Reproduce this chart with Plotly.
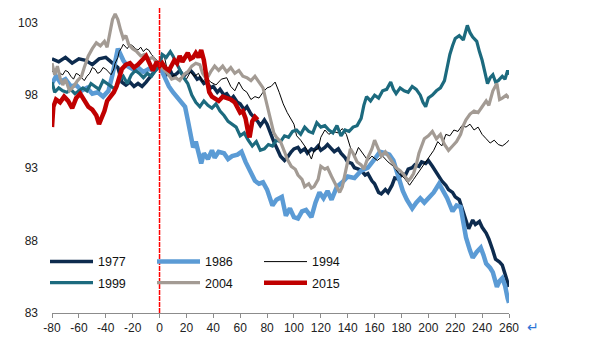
import plotly.graph_objects as go

# ---- data: (trading day relative to event, index level; event day = 100) ----
s1977 = [(-80,100.5),(-75,100.3),(-70,100.6),(-65,100.2),(-60,100.5),(-55,100.4),(-50,100.1),(-45,100.5),
         (-40,100.6),(-35,100.2),(-31,99.9),(-28,98.9),(-25,98.7),(-22,98.9),(-19,98.6),(-16,98.8),(-13,98.6),
         (-10,98.9),(-7,99.3),(-4,99.6),(-2,99.8),(0,100.0),
         (3,99.6),(5,99.4),(8,99.7),(10,99.3),(13,99.5),(15,99.7),(18,99.3),(20,99.5),(23,99.7),(25,99.5),
         (28,99.1),(30,99.2),(33,98.8),(35,98.9),(38,98.5),(40,98.6),(43,98.2),(45,98.4),(48,98.0),(50,98.1),
         (53,97.7),(55,97.9),(58,97.5),(60,97.4),(63,97.0),(65,97.2),(68,96.7),(70,96.5),(73,96.2),(75,95.9),
         (78,96.3),(80,96.0),(83,95.2),(85,94.8),(88,94.2),(90,93.8),(93,93.5),(95,93.7),(98,94.1),(100,94.3),
         (103,94.4),(105,94.1),(108,94.3),(110,94.0),(113,94.3),(115,94.2),(118,94.5),(120,94.2),(123,94.4),
         (125,94.6),(128,94.3),(130,94.1),(133,94.3),(135,94.0),(138,93.7),(140,93.4),(143,93.3),(145,93.0),
         (148,92.9),(150,92.8),(153,92.5),(155,92.6),(158,92.1),(160,91.9),(163,91.3),(165,91.2),(168,91.5),
         (170,91.3),(173,91.8),(175,92.3),(178,92.2),(180,92.6),(183,92.5),(185,92.9),(188,93.0),(190,93.2),
         (193,93.1),(195,93.4),(198,93.3),(200,93.5),(203,93.1),(205,92.8),(208,92.3),(210,92.1),(213,91.8),
         (215,91.5),(218,91.3),(220,91.0),(223,90.8),(225,90.2),(228,89.5),(230,88.8),(233,89.4),(235,89.1),
         (238,89.3),(240,88.9),(243,88.5),(245,88.1),(248,87.3),(250,86.7),(253,86.5),(255,86.3),(258,85.4),
         (260,84.8)]

s1986 = [(-80,98.8),(-77,99.3),(-74,98.9),(-70,99.1),(-66,98.6),(-62,98.7),(-58,98.3),(-54,98.5),(-50,98.1),
         (-46,98.2),(-42,97.9),(-38,98.3),(-35,99.4),(-33,100.3),(-31,101.2),(-29,100.8),(-27,100.4),(-24,100.0),
         (-20,99.8),(-16,99.9),(-12,99.6),(-8,99.8),(-4,99.7),(0,100.0),
         (2,99.6),(4,99.2),(7,98.6),(10,98.2),(13,97.9),(16,97.6),(19,97.2),(21,96.3),(23,95.2),(25,94.4),
         (27,94.8),(29,94.0),(31,93.3),(33,94.0),(36,93.6),(39,94.2),(41,93.7),(44,94.1),(48,94.0),(51,93.6),
         (54,93.8),(58,93.9),(61,94.1),(64,93.4),(67,92.9),(71,92.1),(74,91.9),(77,92.0),(80,91.5),(84,90.4),
         (87,90.8),(91,91.0),(94,89.7),(97,90.2),(100,89.6),(103,89.5),(106,90.0),(109,90.1),(113,89.6),
         (116,90.6),(119,91.3),(122,90.9),(125,91.4),(128,90.8),(132,91.7),(136,92.0),(140,92.4),(145,92.3),
         (150,92.8),(155,93.0),(160,93.6),(164,94.1),(168,94.0),(171,93.9),(174,93.5),(178,92.3),(181,91.4),
         (184,90.8),(188,90.2),(191,90.6),(194,90.9),(197,90.6),(200,90.9),(204,91.3),(208,91.9),(211,91.4),
         (214,90.9),(218,90.0),(221,90.4),(224,90.3),(226,89.2),(228,88.2),(231,87.3),(233,86.8),(236,87.2),
         (239,87.5),(241,87.0),(243,86.4),(246,86.1),(248,85.8),(251,84.8),(253,85.2),(255,85.4),(257,84.9),
         (259,84.0),(260,83.7)]

s1994 = [(-80,99.6),(-78,99.8),(-76,99.9),(-74,99.5),(-72,99.4),(-70,99.7),(-68,99.6),(-66,99.3),(-64,99.1),
         (-62,99.5),(-60,99.4),(-58,99.2),(-56,99.0),(-54,99.3),(-52,99.5),(-50,99.9),(-48,99.8),(-46,99.5),
         (-44,99.6),(-42,99.9),(-40,99.8),(-38,99.6),(-36,99.4),(-34,99.8),(-33,100.2),(-31,100.6),(-30,101.0),
         (-28,101.3),(-27,101.5),(-25,101.3),(-24,101.2),(-22,101.5),(-20,101.4),(-18,101.2),(-16,101.1),
         (-14,101.3),(-12,101.0),(-10,101.2),(-8,101.1),(-6,100.8),(-4,100.6),(-2,100.4),(0,100.0),
         (2,100.9),(4,100.5),(6,99.6),(8,99.2),(11,99.4),(14,99.1),(17,99.3),(20,99.1),(23,99.6),(26,99.3),
         (29,99.5),(32,98.9),(35,99.2),(38,98.9),(42,98.7),(46,99.1),(50,99.2),(53,98.6),(56,98.3),(59,98.9),
         (62,98.4),(65,98.2),(68,97.7),(71,97.9),(74,97.8),(77,98.2),(80,98.5),(83,98.6),(86,98.9),(89,98.2),
         (92,97.4),(95,96.8),(98,96.3),(100,96.0),(102,95.2),(105,94.9),(108,94.5),(110,94.2),(113,93.6),
         (115,94.2),(118,94.3),(120,95.1),(123,95.6),(126,95.3),(129,95.5),(133,95.4),(136,95.7),(139,95.3),
         (142,94.4),(145,93.7),(148,94.4),(151,94.0),(155,93.5),(158,93.8),(162,93.5),(166,93.8),(170,93.4),
         (174,93.1),(178,92.6),(182,92.3),(186,91.8),(189,92.2),(192,92.6),(195,93.0),(198,93.4),(201,93.8),
         (204,94.2),(207,94.8),(210,94.5),(213,95.3),(216,95.2),(219,95.6),(222,95.5),(225,95.9),(228,95.8),
         (231,96.0),(234,95.6),(237,95.8),(240,95.3),(243,95.0),(246,94.7),(249,94.9),(252,94.6),(255,94.5),
         (258,94.7),(260,94.9)]

s1999 = [(-80,98.9),(-78,98.2),(-75,98.5),(-72,98.3),(-69,98.2),(-66,98.4),(-63,98.1),(-60,98.3),(-57,98.5),
         (-54,98.3),(-51,98.8),(-48,98.6),(-45,98.4),(-42,99.0),(-39,98.8),(-36,98.6),(-33,98.4),(-30,99.0),
         (-27,99.3),(-24,98.8),(-21,99.4),(-18,99.7),(-15,99.5),(-12,99.2),(-9,99.5),(-6,99.3),(-3,99.7),(0,100.0),
         (2,100.8),(5,100.6),(8,101.0),(10,100.7),(12,100.3),(15,99.8),(18,99.2),(21,98.8),(24,98.0),(27,97.5),
         (30,97.2),(33,97.6),(36,97.3),(39,97.1),(42,97.4),(45,96.9),(48,96.6),(51,96.2),(54,96.0),(57,95.8),
         (60,95.2),(63,95.4),(66,94.9),(69,94.5),(72,94.8),(75,94.2),(78,94.3),(81,94.6),(84,94.5),(87,94.9),
         (90,94.8),(93,95.2),(96,95.1),(99,95.5),(102,95.6),(105,95.3),(108,95.8),(111,95.5),(114,95.4),
         (117,96.1),(120,95.8),(123,95.9),(126,95.6),(129,95.4),(132,95.9),(135,95.2),(138,95.6),(141,95.5),
         (144,95.8),(147,95.9),(150,96.4),(152,97.3),(154,97.9),(157,97.6),(160,98.0),(163,97.8),(166,98.3),
         (169,98.4),(172,98.9),(174,98.4),(176,98.1),(179,98.5),(182,98.3),(185,98.2),(188,98.6),(191,98.4),
         (194,98.0),(196,97.5),(198,97.2),(200,97.8),(203,98.0),(206,98.3),(209,98.5),(212,99.0),(214,99.9),
         (216,100.8),(218,101.4),(220,101.9),(223,102.1),(226,101.8),(229,102.8),(231,102.3),(233,102.0),
         (236,101.7),(238,101.0),(240,100.4),(242,99.6),(244,98.8),(246,99.2),(248,99.4),(250,98.9),(252,99.0),
         (255,99.3),(257,99.1),(259,99.7),(260,99.4)]

s2004 = [(-80,100.2),(-78,99.4),(-76,100.0),(-74,99.2),(-72,98.7),(-70,99.1),(-67,98.3),(-64,98.6),(-61,99.0),
         (-58,99.3),(-56,99.9),(-53,100.7),(-50,101.2),(-47,101.6),(-44,101.4),(-41,101.7),(-39,101.3),
         (-37,102.4),(-35,103.2),(-33,103.6),(-31,103.2),(-29,102.5),(-27,101.9),(-25,102.1),(-23,101.5),
         (-20,101.2),(-17,101.0),(-14,100.7),(-11,100.8),(-8,100.5),(-5,100.6),(-2,100.2),(0,100.0),
         (3,99.8),(6,99.5),(9,99.1),(12,99.2),(15,99.0),(18,99.4),(21,99.6),(24,100.0),(27,100.2),(30,100.1),
         (32,99.5),(35,99.1),(38,99.6),(41,100.0),(44,99.7),(47,100.0),(50,99.6),(53,99.9),(56,99.5),(59,99.7),
         (62,99.3),(65,99.2),(68,99.0),(71,99.3),(74,98.9),(77,98.5),(79,97.7),(81,97.0),(83,96.2),(85,95.4),
         (87,95.1),(90,94.8),(93,94.1),(95,93.6),(98,93.1),(101,92.9),(103,92.5),(106,92.2),(108,91.7),
         (111,91.9),(113,91.6),(115,91.7),(118,92.2),(120,93.1),(123,92.9),(125,93.0),(128,92.4),(131,91.8),
         (134,91.3),(136,91.7),(138,92.6),(140,93.6),(142,94.3),(144,94.0),(147,93.4),(150,93.2),(152,92.9),
         (155,93.7),(158,94.3),(160,94.9),(162,94.5),(165,93.8),(168,94.1),(170,93.8),(173,93.4),(176,93.0),
         (179,92.8),(182,92.5),(185,92.1),(187,92.3),(189,92.6),(191,93.2),(193,94.0),(195,94.5),(197,95.0),
         (200,95.2),(203,95.5),(206,95.0),(209,95.3),(212,94.6),(215,94.2),(218,94.5),(221,94.8),(224,95.3),
         (226,95.9),(228,96.3),(231,96.7),(234,96.9),(237,96.8),(240,97.2),(243,97.6),(245,97.3),(248,98.3),
         (251,98.8),(253,97.7),(255,97.8),(258,98.0),(260,97.8)]

s2015 = [(-80,95.8),(-79,97.2),(-77,97.7),(-74,97.5),(-71,97.9),(-68,97.6),(-65,97.1),(-62,97.8),(-59,98.1),
         (-56,97.6),(-53,97.2),(-50,97.0),(-47,96.6),(-45,96.0),(-43,96.4),(-41,96.9),(-39,97.6),(-36,97.9),
         (-34,98.2),(-32,98.6),(-30,99.3),(-28,99.8),(-25,100.1),(-22,100.2),(-19,99.9),(-16,100.1),(-13,100.4),
         (-10,100.7),(-7,100.1),(-5,99.7),(-2,100.3),(0,100.0),
         (2,100.2),(4,99.9),(7,99.7),(9,100.0),(11,100.4),(13,100.2),(15,100.7),(17,100.3),(19,100.6),
         (21,100.9),(23,100.5),(25,100.6),(27,100.9),(29,100.6),(31,101.1),(33,100.4),(35,99.2),(37,98.2),
         (39,97.9),(41,97.8),(44,97.6),(47,97.9),(50,97.8),(53,97.7),(56,97.5),(58,97.1),(60,96.8),(62,96.9),
         (64,96.4),(66,95.4),(67,95.1),(69,96.2),(71,96.5),(73,96.3)]

years = ["1977", "1986", "1994", "1999", "2004", "2015"]
series = [s1977, s1986, s1994, s1999, s2004, s2015]
colors = ["#0d2b4e", "#5b9bd5", "#000000", "#1c6a7e", "#a39b94", "#c00000"]
widths = [3.5, 4.5, 1.0, 3.2, 3.2, 4.5]
legend_ids = ["legend", "legend", "legend", "legend2", "legend2", "legend2"]

x_ticks = list(range(-80, 261, 20))
x_ticktext = [str(v) for v in x_ticks]
y_ticks = [83, 88, 93, 98, 103]

FONT = "Liberation Sans, Arial, sans-serif"

fig = go.Figure()
for name, s, c, w, lg in zip(years, series, colors, widths, legend_ids):
    fig.add_trace(go.Scatter(
        x=[p[0] for p in s], y=[p[1] for p in s], mode="lines", name=name,
        line=dict(color=c, width=w), legend=lg))

leg_common = dict(orientation="h", x=0.6871, xanchor="right", yanchor="middle",
                  bgcolor="rgba(0,0,0,0)", font=dict(family=FONT, size=12.5, color="#111"),
                  itemwidth=43, entrywidth=49, tracegroupgap=0)

fig.update_layout(
    width=600, height=345,
    margin=dict(l=52, r=91, t=8, b=32),
    paper_bgcolor="white", plot_bgcolor="white",
    font=dict(family=FONT, size=12, color="#222"),
    xaxis=dict(range=[-80, 260], tickvals=x_ticks, ticktext=x_ticktext, ticks="outside", ticklen=4,
               tickcolor="#8c8c8c", showline=True, linecolor="#8c8c8c", linewidth=1,
               showgrid=False, zeroline=False, tickfont=dict(size=12, color="#222")),
    yaxis=dict(range=[83, 104], tickvals=y_ticks, showline=False, ticks="",
               showgrid=False, zeroline=False, tickfont=dict(size=12, color="#222"),
               ticklabelstandoff=13),
    legend=dict(y=0.1673, **leg_common),
    legend2=dict(y=0.0983, **leg_common),
    shapes=[dict(type="line", xref="x", yref="paper", x0=0, x1=0, y0=0, y1=1,
                 line=dict(color="#ff0000", width=1.5, dash="5px,1px"))],
    annotations=[dict(text="↵", xref="paper", yref="paper", x=1.0525, y=-0.046,
                      xanchor="center", yanchor="middle",
                      showarrow=False, font=dict(size=14, color="#2e75d6"))],
)

fig.write_html("out.html")
